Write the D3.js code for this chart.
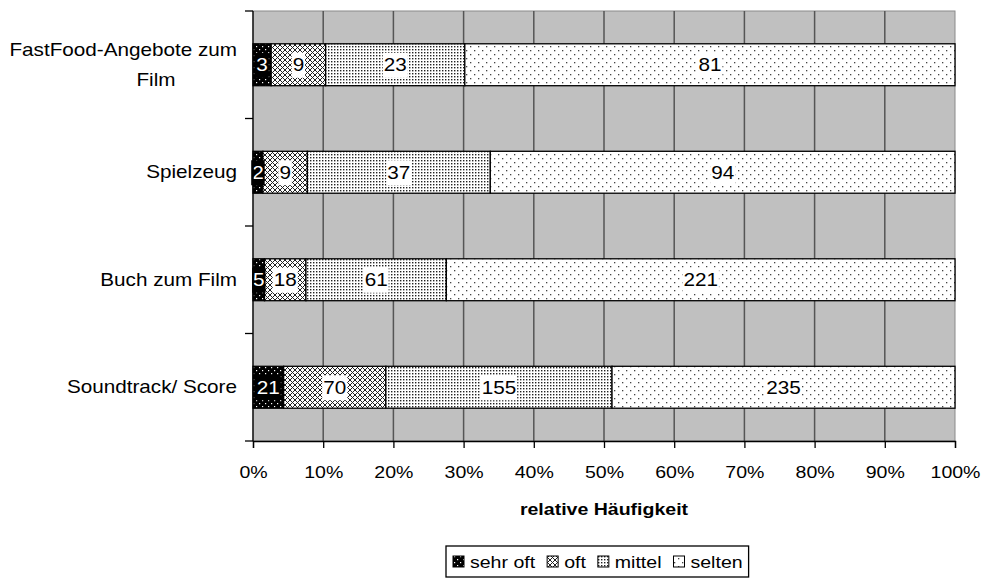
<!DOCTYPE html>
<html><head><meta charset="utf-8">
<script src="https://cdn.jsdelivr.net/npm/d3@7"></script>
<style>body{margin:0;background:#fff}text{font-family:"Liberation Sans",Arial,sans-serif;fill:#000}</style>
</head><body><svg id="c" width="983" height="579"></svg>
<script>
const categories = ["FastFood-Angebote zum Film", "Spielzeug", "Buch zum Film", "Soundtrack/ Score"];
const categoryLines = [["FastFood-Angebote zum", "Film"], ["Spielzeug"], ["Buch zum Film"], ["Soundtrack/ Score"]];
const seriesNames = ["sehr oft", "oft", "mittel", "selten"];
const sehrOft = [3, 2, 5, 21];
const oft = [9, 9, 18, 70];
const mittel = [23, 37, 61, 155];
const selten = [81, 94, 221, 235];
const xTickValues = [0, 0.1, 0.2, 0.3, 0.4, 0.5, 0.6, 0.7, 0.8, 0.9, 1.0];
const xTitle = "relative Häufigkeit";

const series = [sehrOft, oft, mittel, selten];
const SX = 1.15; // horizontal text stretch
const svg = d3.select("#c");
const M = {left: 253, right: 955, top: 11, bottom: 441};
const x = d3.scaleLinear().domain([0, 1]).range([M.left, M.right]);
const y = d3.scaleBand().domain(categories).range([M.top, M.bottom]).paddingInner(0).paddingOuter(0);
const barH = y.bandwidth() * 0.39;

function stext(g, tx, ty, str, size, anchor, weight) {
  return g.append("text").attr("transform", `translate(${tx},${ty}) scale(${SX},1)`)
    .attr("text-anchor", anchor || "start").style("font-size", size + "px")
    .style("font-weight", weight || "normal").text(str);
}

// patterns
const defs = svg.append("defs");
function pat(id, w, h, bg, dots, color) {
  const p = defs.append("pattern").attr("id", id).attr("patternUnits", "userSpaceOnUse").attr("width", w).attr("height", h);
  p.append("rect").attr("width", w).attr("height", h).attr("fill", bg);
  dots.forEach(d => p.append("rect").attr("x", d[0]).attr("y", d[1]).attr("width", d[2] || 1).attr("height", d[3] || 1).attr("fill", color));
}
pat("p0", 6, 6, "#000", [[1, 1, 1.2, 1.2], [4, 4, 1.2, 1.2]], "#fff");
pat("p1", 5, 5, "#fff", [[0, 0], [1, 1], [2, 2], [3, 3], [4, 4], [4, 0], [3, 1], [1, 3], [0, 4]], "#222");
pat("p2", 3, 3, "#fff", [[1, 1, 1.4, 1.4]], "#222");
pat("p3", 8, 8, "#fff", [[2, 2, 1.3, 1.3], [6, 6, 1.3, 1.3]], "#444");
const fills = ["url(#p0)", "url(#p1)", "url(#p2)", "url(#p3)"];

// background
svg.append("rect").attr("x", M.left).attr("y", M.top).attr("width", M.right - M.left).attr("height", M.bottom - M.top)
  .attr("fill", "#c0c0c0").attr("stroke", "#8a8a8a").attr("stroke-width", 1);
// gridlines
svg.append("g").selectAll("line").data(xTickValues.slice(1, -1)).join("line")
  .attr("x1", d => x(d)).attr("x2", d => x(d)).attr("y1", M.top).attr("y2", M.bottom)
  .attr("stroke", "#555").attr("stroke-width", 1.5);

// stacked data
const stacked = categories.map((c, i) => {
  const tot = series.reduce((s, a) => s + a[i], 0);
  let acc = 0;
  return series.map((a, k) => { const s0 = acc / tot; acc += a[i]; return {c, k, v: a[i], x0: s0, x1: acc / tot}; });
});
const gBars = svg.append("g");
stacked.forEach(row => {
  row.forEach(d => {
    gBars.append("rect").attr("x", x(d.x0)).attr("y", y(d.c) + (y.bandwidth() - barH) / 2)
      .attr("width", x(d.x1) - x(d.x0)).attr("height", barH)
      .attr("fill", fills[d.k]).attr("stroke", "#000").attr("stroke-width", 1.3);
  });
});
// value labels
const gLab = svg.append("g");
stacked.forEach(row => {
  row.forEach(d => {
    const cx = (x(d.x0) + x(d.x1)) / 2, cy = y(d.c) + y.bandwidth() / 2;
    const t = stext(gLab, cx, cy + 6.5, d.v, 18, "middle");
    const w = t.node().getComputedTextLength() * SX;
    gLab.insert("rect", () => t.node()).attr("x", cx - w / 2 - 1).attr("y", cy - 12).attr("width", w + 2).attr("height", 25)
      .attr("fill", d.k === 0 ? "#000" : "#fff");
    t.style("fill", d.k === 0 ? "#fff" : "#000");
  });
});

// left axis
svg.append("line").attr("x1", M.left).attr("x2", M.left).attr("y1", M.top).attr("y2", M.bottom).attr("stroke", "#000").attr("stroke-width", 1.3);
const bounds = categories.map(c => y(c)).concat([M.bottom]);
svg.append("g").selectAll("line").data(bounds).join("line")
  .attr("x1", M.left - 8).attr("x2", M.left).attr("y1", d => d).attr("y2", d => d).attr("stroke", "#000").attr("stroke-width", 1.3);
// category labels
const gCat = svg.append("g");
categories.forEach((c, i) => {
  const lines = categoryLines[i];
  const cy = y(c) + y.bandwidth() / 2;
  if (lines.length === 1) {
    stext(gCat, 237, cy + 6, lines[0], 18, "end");
  } else {
    stext(gCat, 237, cy - 9, lines[0], 18, "end");
    stext(gCat, 156, cy + 21, lines[1], 18, "middle");
  }
});

// bottom axis
const xAxis = d3.axisBottom(x).tickValues(xTickValues).tickFormat(d3.format(".0%")).tickSize(7).tickPadding(18);
const gx = svg.append("g").attr("transform", `translate(0,${M.bottom})`).call(xAxis);
gx.select(".domain").attr("stroke", "#000").attr("stroke-width", 1.3);
gx.selectAll(".tick line").attr("stroke", "#000").attr("stroke-width", 1.3);
gx.selectAll(".tick text").attr("transform", `scale(${SX},1)`).style("font-size", "17px")
  .style("font-family", '"Liberation Sans",Arial,sans-serif').attr("fill", "#000");
stext(svg, (M.left + M.right) / 2, 515, xTitle, 17, "middle", "bold");

// legend
const lg = svg.append("g");
const lgBox = lg.append("rect").attr("y", 546).attr("height", 31).attr("fill", "#fff").attr("stroke", "#000").attr("stroke-width", 1.3);
let lx = 453;
seriesNames.forEach((n, k) => {
  lg.append("rect").attr("x", lx).attr("y", 556).attr("width", 11).attr("height", 11).attr("fill", fills[k]).attr("stroke", "#000").attr("stroke-width", 1);
  const t = stext(lg, lx + 17, 568, n, 17, "start");
  lx += 17 + t.node().getComputedTextLength() * SX + 12;
});
lgBox.attr("x", 446).attr("width", lx - 446 - 6);
</script></body></html>
